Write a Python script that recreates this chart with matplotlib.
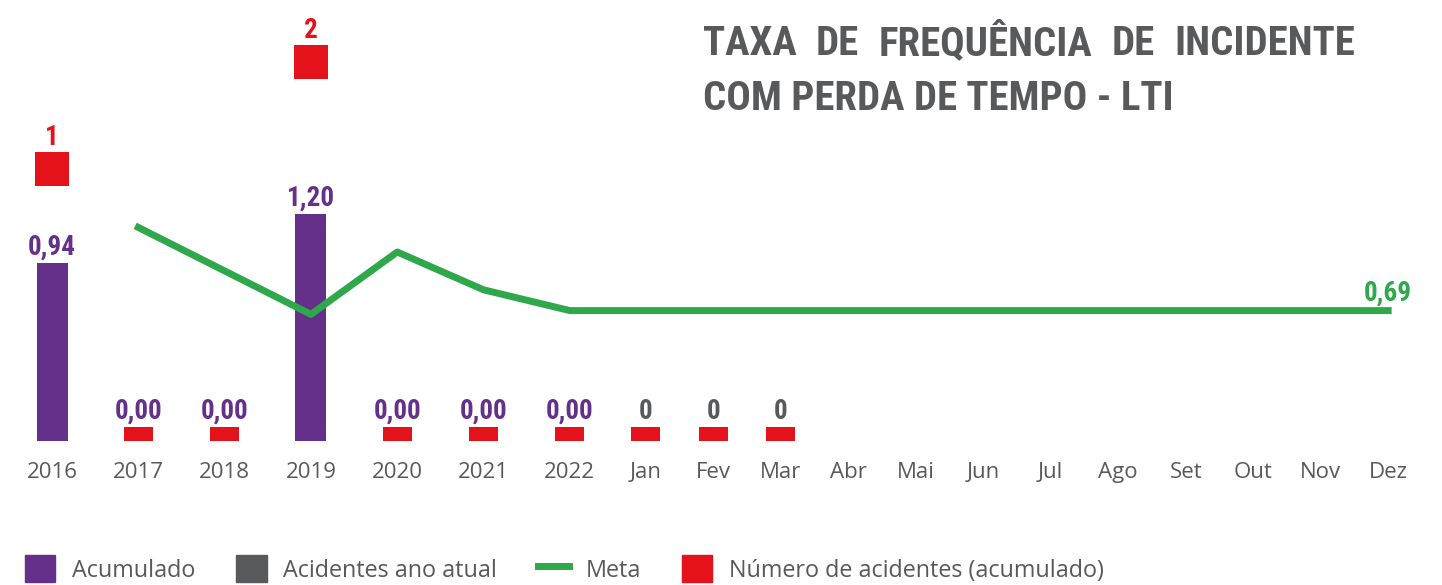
import numpy as np
import matplotlib
matplotlib.use('Agg')
import matplotlib.pyplot as plt
from matplotlib import font_manager
from matplotlib.patches import Patch
from matplotlib.lines import Line2D

# dados
categorias = ['2016', '2017', '2018', '2019', '2020', '2021', '2022',
              'Jan', 'Fev', 'Mar', 'Abr', 'Mai', 'Jun', 'Jul', 'Ago',
              'Set', 'Out', 'Nov', 'Dez']
acumulado = [0.94, 0.00, 0.00, 1.20, 0.00, 0.00, 0.00]      # 2016..2022
ano_atual = [0, 0, 0]                                        # Jan..Mar
meta = [np.nan, 1.13, 0.90, 0.67, 1.00, 0.80, 0.69,
        0.69, 0.69, 0.69, 0.69, 0.69, 0.69, 0.69, 0.69, 0.69, 0.69, 0.69, 0.69]
num_acidentes = [1, 0, 0, 2, 0, 0, 0, 0, 0, 0]               # 2016..Mar

titulo_l1 = ['TAXA', 'DE', 'FREQUÊNCIA', 'DE', 'INCIDENTE']
titulo_l2 = 'COM PERDA DE TEMPO - LTI'

PURPLE = '#65308A'
GRAY = '#58595B'
GREEN = '#2EA84B'
RED = '#E3121B'
TXT = '#595959'

names = {f.name for f in font_manager.fontManager.ttflist}
COND = dict(family='DejaVu Sans', stretch='condensed', weight='bold')
for fam in ['Liberation Sans Narrow', 'Roboto Condensed', 'Open Sans Condensed']:
    if fam in names:
        COND = dict(family=fam, weight='bold')
        break
BASE = 'Open Sans' if 'Open Sans' in names else 'DejaVu Sans'

# years are wider apart than the months in the original
n_anos = len(acumulado)
n_meses = len(categorias) - n_anos
xpos = np.concatenate([np.arange(n_anos),
                       n_anos - 1 + 0.881 + 0.782 * np.arange(n_meses)])

fig = plt.figure(figsize=(14.42, 5.85), dpi=100)
ax = fig.add_axes([0, 144 / 585, 1, 431 / 585])
ax.set_xlim(-0.603, 16.107)
ax.set_ylim(0, 431 / 189)

STUB = 14 / 189
LBL = 19.5

ax.bar(xpos[:n_anos], acumulado, width=0.36, color=PURPLE, zorder=2)
ax.bar(xpos[n_anos:n_anos + len(ano_atual)], ano_atual, width=0.36, color=GRAY, zorder=2)

nz = [i for i, c in enumerate(num_acidentes) if c > 0]
zr = [i for i, c in enumerate(num_acidentes) if c == 0]
ax.bar(xpos[zr], [STUB] * len(zr), width=0.336, color=RED, zorder=2)

ax.plot(xpos, meta, color=GREEN, lw=5, zorder=3)

for i, v in enumerate(acumulado):
    y = v if v > 0 else STUB
    ax.annotate(('%.2f' % v).replace('.', ','), (xpos[i], y), xytext=(0, 6),
                textcoords='offset points', ha='center', va='baseline',
                color=PURPLE, fontsize=LBL, **COND)
for j, v in enumerate(ano_atual):
    i = n_anos + j
    ax.annotate('%d' % v, (xpos[i], STUB), xytext=(0, 6),
                textcoords='offset points', ha='center', va='baseline',
                color=GRAY, fontsize=LBL, **COND)

ax.annotate('0,69', (xpos[-1], meta[-1]), xytext=(17, 7),
            textcoords='offset points', ha='right', va='baseline',
            color=GREEN, fontsize=LBL, **COND)

ax2 = ax.twinx()
ax2.set_ylim(-1.542, 2.486)
cnt = [num_acidentes[i] for i in nz]
ax2.scatter(xpos[nz], cnt, marker='s', s=566, color=RED, linewidths=0, zorder=3)
for x, c in zip(xpos[nz], cnt):
    ax2.annotate(str(c), (x, c), xytext=(0, 17.3), textcoords='offset points',
                 ha='center', va='baseline', color=RED, fontsize=LBL, **COND)
ax2.axis('off')

for s in ax.spines.values():
    s.set_visible(False)
ax.set_yticks([])
ax.set_xticks(xpos, categorias)
ax.tick_params(axis='x', length=0, pad=15, labelsize=16, labelcolor=TXT)
for t in ax.get_xticklabels():
    t.set_fontfamily(BASE)

handles = [Patch(color=PURPLE), Patch(color=GRAY),
           Line2D([], [], color=GREEN, lw=5), Patch(color=RED)]
labels = ['Acumulado', 'Acidentes ano atual', 'Meta', 'Número de acidentes (acumulado)']
fig.legend(handles, labels, loc='center left', bbox_to_anchor=(25 / 1442, 16 / 585),
           ncol=4, frameon=False, handlelength=1.3, handleheight=1.4,
           handletextpad=0.72, columnspacing=1.75, borderpad=0, borderaxespad=0,
           labelcolor=TXT, prop=dict(family=BASE, size=16.8))

# titulo: tamanho ajustado a largura da segunda linha, primeira linha justificada
x0, x1 = 703 / 1442, 1355 / 1442
tsize = 30
l2 = fig.text(x0, 1 - 110 / 585, titulo_l2, ha='left', va='baseline', color=GRAY,
              fontsize=tsize, **COND)
fig.canvas.draw()
r = fig.canvas.get_renderer()
tsize = tsize * 470 / l2.get_window_extent(r).width
l2.set_fontsize(tsize)
words = [fig.text(x0, 1 - 55 / 585, w, ha='left', va='baseline', color=GRAY,
                  fontsize=tsize, **COND) for w in titulo_l1]
fig.canvas.draw()
wd = [t.get_window_extent(r).width / fig.bbox.width for t in words]
gap = (x1 - x0 - sum(wd)) / (len(words) - 1)
x = x0
for t, w in zip(words, wd):
    t.set_x(x)
    x += w + gap

fig.savefig('out.png', dpi=100)
